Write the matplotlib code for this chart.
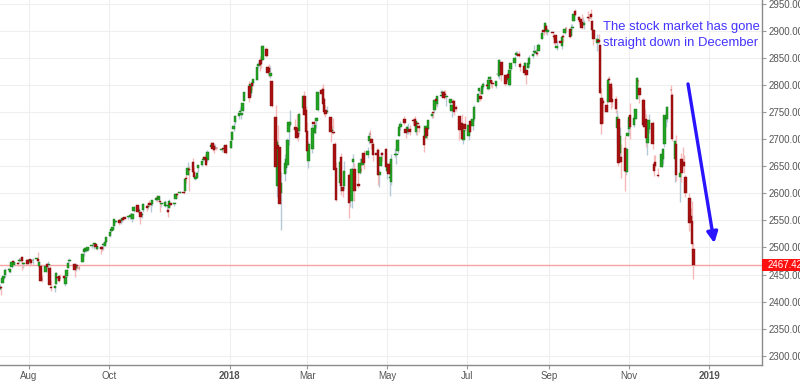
import numpy as np
import pandas as pd
import matplotlib
matplotlib.use("Agg")
import matplotlib.pyplot as plt
import matplotlib.dates as mdates
import matplotlib.transforms as mtransforms
from matplotlib.patches import Rectangle

plt.rcParams['font.family'] = ['Liberation Sans', 'DejaVu Sans']

# daily candles, 2017-07-10 .. 2018-12-20 (one line per month)
start_day = "2017-07-10"
end_day = "2018-12-20"
holidays = ["2017-09-04", "2017-11-23", "2017-12-25", "2018-01-01", "2018-01-15",
            "2018-02-19", "2018-03-30", "2018-05-28", "2018-07-04", "2018-09-03",
            "2018-11-22", "2018-12-05"]

opens = [
    2424, 2427, 2435, 2444, 2449, 2459, 2455, 2464, 2475, 2467, 2472, 2475, 2479, 2483, 2469, 2476,
    2474, 2478, 2476, 2476, 2478, 2478, 2465, 2466, 2442, 2454, 2469, 2468, 2462, 2427, 2425, 2433, 2445, 2447, 2444, 2447, 2432, 2447, 2463,
    2475, 2470, 2463, 2468, 2462, 2474, 2491, 2493, 2494, 2496, 2502, 2506, 2507, 2507, 2497, 2500, 2501, 2504, 2503, 2511,
    2521, 2530, 2533, 2540, 2547, 2551, 2549, 2551, 2555, 2556, 2556, 2557, 2561, 2553, 2567, 2578, 2568, 2566, 2560, 2570, 2577, 2575,
    2583, 2579, 2581, 2588, 2592, 2588, 2585, 2581, 2576, 2577, 2569, 2572, 2583, 2580, 2589, 2599, 2600, 2603, 2605, 2628, 2634,
    2645, 2657, 2639, 2627, 2628, 2646, 2652, 2661, 2667, 2665, 2661, 2685, 2693, 2688, 2683, 2684, 2680, 2683, 2687, 2690,
    2684, 2698, 2719, 2731, 2743, 2751, 2745, 2752, 2770, 2799, 2785, 2803, 2803, 2810, 2835, 2846, 2846, 2847, 2867, 2833, 2832,
    2817, 2808, 2741, 2614, 2690, 2686, 2601, 2636, 2646, 2652, 2713, 2727, 2722, 2720, 2711, 2716, 2757, 2780, 2754,
    2716, 2659, 2681, 2731, 2711, 2733, 2753, 2791, 2792, 2775, 2754, 2750, 2741, 2716, 2714, 2692, 2646, 2620, 2667, 2612, 2614,
    2633, 2592, 2585, 2658, 2645, 2617, 2638, 2643, 2653, 2675, 2670, 2697, 2710, 2701, 2692, 2675, 2680, 2634, 2651, 2675, 2682,
    2642, 2654, 2628, 2621, 2670, 2670, 2678, 2705, 2723, 2738, 2718, 2713, 2720, 2718, 2735, 2738, 2714, 2730, 2724, 2705, 2703, 2720,
    2719, 2742, 2749, 2753, 2774, 2765, 2780, 2785, 2788, 2784, 2778, 2766, 2752, 2770, 2770, 2760, 2742, 2722, 2729, 2699, 2728,
    2705, 2733, 2724, 2738, 2768, 2789, 2779, 2784, 2796, 2799, 2793, 2811, 2809, 2804, 2799, 2820, 2817, 2836, 2842, 2819, 2809,
    2821, 2800, 2830, 2841, 2856, 2856, 2858, 2838, 2835, 2827, 2827, 2831, 2838, 2853, 2861, 2860, 2860, 2862, 2885, 2902, 2900, 2909, 2898,
    2897, 2891, 2893, 2868, 2881, 2872, 2889, 2896, 2906, 2903, 2891, 2906, 2919, 2937, 2926, 2921, 2917, 2912, 2911,
    2926, 2924, 2932, 2919, 2902, 2877, 2883, 2874, 2776, 2770, 2764, 2768, 2811, 2802, 2775, 2774, 2721, 2737, 2675, 2667, 2683, 2640, 2706,
    2718, 2745, 2726, 2738, 2774, 2807, 2795, 2773, 2730, 2737, 2693, 2718, 2730, 2654, 2657, 2633, 2649, 2663, 2692, 2737, 2737,
    2791, 2782, 2663, 2691, 2630, 2664, 2658, 2658, 2630, 2591, 2559, 2548, 2497,
]
highs = [
    2432, 2429, 2445, 2449, 2463, 2462, 2461, 2474, 2477, 2473, 2474, 2481, 2481, 2484, 2474, 2478,
    2478, 2478, 2477, 2480, 2481, 2491, 2475, 2467, 2449, 2468, 2469, 2475, 2466, 2440, 2430, 2454, 2448, 2449, 2451, 2449, 2450, 2460, 2475,
    2481, 2471, 2470, 2468, 2467, 2489, 2496, 2498, 2498, 2500, 2505, 2507, 2509, 2507, 2503, 2503, 2503, 2511, 2510, 2520,
    2530, 2535, 2540, 2553, 2550, 2552, 2552, 2555, 2556, 2557, 2558, 2559, 2563, 2563, 2576, 2579, 2572, 2568, 2564, 2582, 2580, 2578,
    2588, 2582, 2588, 2593, 2597, 2595, 2587, 2583, 2588, 2579, 2572, 2590, 2583, 2584, 2600, 2601, 2605, 2606, 2628, 2634, 2657,
    2650, 2665, 2648, 2634, 2641, 2652, 2660, 2669, 2672, 2669, 2680, 2694, 2694, 2692, 2692, 2686, 2683, 2685, 2688, 2692,
    2696, 2715, 2730, 2744, 2749, 2760, 2751, 2767, 2787, 2808, 2807, 2806, 2811, 2833, 2842, 2853, 2848, 2873, 2870, 2837, 2839,
    2836, 2808, 2763, 2701, 2727, 2686, 2639, 2672, 2668, 2702, 2732, 2754, 2737, 2747, 2731, 2748, 2780, 2789, 2761,
    2731, 2696, 2728, 2733, 2730, 2741, 2787, 2797, 2801, 2777, 2763, 2762, 2741, 2725, 2740, 2695, 2657, 2660, 2675, 2630, 2659,
    2638, 2619, 2649, 2672, 2656, 2653, 2665, 2662, 2674, 2680, 2686, 2713, 2717, 2703, 2694, 2683, 2683, 2645, 2677, 2677, 2683,
    2656, 2660, 2638, 2673, 2684, 2677, 2701, 2726, 2733, 2742, 2719, 2726, 2729, 2726, 2739, 2742, 2733, 2731, 2728, 2711, 2725, 2723,
    2736, 2749, 2752, 2773, 2779, 2780, 2790, 2790, 2791, 2790, 2782, 2775, 2765, 2774, 2772, 2764, 2742, 2732, 2746, 2725, 2743,
    2727, 2737, 2737, 2763, 2785, 2795, 2790, 2799, 2805, 2803, 2814, 2816, 2810, 2810, 2808, 2835, 2848, 2843, 2843, 2821, 2819,
    2826, 2830, 2841, 2853, 2863, 2862, 2862, 2842, 2843, 2843, 2827, 2851, 2855, 2860, 2873, 2867, 2869, 2877, 2899, 2904, 2916, 2913, 2906,
    2900, 2893, 2893, 2883, 2884, 2892, 2895, 2906, 2908, 2904, 2912, 2912, 2935, 2941, 2927, 2924, 2931, 2925, 2920,
    2937, 2932, 2940, 2920, 2903, 2894, 2894, 2875, 2795, 2775, 2776, 2814, 2817, 2806, 2797, 2780, 2754, 2743, 2723, 2692, 2706, 2686, 2737,
    2741, 2767, 2745, 2756, 2815, 2812, 2796, 2776, 2755, 2747, 2735, 2747, 2733, 2670, 2671, 2647, 2676, 2683, 2744, 2753, 2761,
    2800, 2785, 2698, 2708, 2641, 2674, 2685, 2671, 2634, 2601, 2573, 2585, 2510,
]
lows = [
    2422, 2413, 2435, 2441, 2446, 2455, 2452, 2463, 2467, 2465, 2466, 2472, 2474, 2459, 2462, 2468,
    2471, 2465, 2468, 2469, 2475, 2471, 2461, 2438, 2437, 2454, 2459, 2459, 2430, 2420, 2417, 2433, 2441, 2436, 2441, 2439, 2428, 2446, 2463,
    2473, 2446, 2456, 2460, 2459, 2474, 2484, 2491, 2491, 2493, 2499, 2503, 2497, 2497, 2496, 2488, 2494, 2496, 2502, 2509,
    2520, 2528, 2532, 2539, 2545, 2542, 2544, 2547, 2548, 2552, 2552, 2553, 2557, 2547, 2566, 2564, 2565, 2544, 2555, 2566, 2568, 2571,
    2574, 2566, 2577, 2585, 2584, 2585, 2566, 2575, 2575, 2566, 2557, 2572, 2576, 2577, 2589, 2593, 2600, 2598, 2605, 2620, 2633,
    2605, 2639, 2629, 2625, 2628, 2640, 2650, 2659, 2662, 2651, 2657, 2685, 2679, 2674, 2682, 2680, 2677, 2679, 2682, 2673,
    2683, 2698, 2716, 2728, 2738, 2747, 2737, 2752, 2770, 2769, 2779, 2790, 2798, 2809, 2831, 2825, 2831, 2846, 2852, 2818, 2814,
    2813, 2759, 2638, 2593, 2681, 2580, 2533, 2622, 2637, 2648, 2689, 2725, 2706, 2701, 2697, 2709, 2752, 2744, 2713,
    2659, 2647, 2675, 2715, 2710, 2721, 2752, 2780, 2759, 2744, 2741, 2749, 2694, 2712, 2709, 2642, 2586, 2604, 2597, 2594, 2608,
    2554, 2574, 2573, 2648, 2586, 2610, 2635, 2639, 2652, 2645, 2665, 2692, 2703, 2682, 2660, 2658, 2615, 2612, 2651, 2660, 2648,
    2626, 2635, 2595, 2616, 2668, 2655, 2674, 2705, 2717, 2727, 2702, 2710, 2710, 2708, 2726, 2721, 2708, 2707, 2714, 2677, 2703, 2700,
    2719, 2740, 2739, 2748, 2761, 2760, 2779, 2780, 2775, 2776, 2761, 2757, 2741, 2763, 2745, 2752, 2699, 2713, 2699, 2692, 2716,
    2699, 2713, 2717, 2733, 2768, 2786, 2770, 2784, 2793, 2793, 2790, 2806, 2796, 2795, 2795, 2815, 2812, 2832, 2808, 2799, 2805,
    2805, 2799, 2828, 2836, 2855, 2853, 2851, 2826, 2819, 2826, 2802, 2831, 2834, 2850, 2857, 2856, 2853, 2862, 2885, 2893, 2898, 2895, 2892,
    2885, 2876, 2874, 2865, 2875, 2867, 2880, 2895, 2898, 2886, 2891, 2903, 2919, 2928, 2912, 2913, 2903, 2910, 2904,
    2918, 2919, 2921, 2893, 2874, 2863, 2875, 2784, 2710, 2729, 2750, 2768, 2782, 2755, 2760, 2749, 2692, 2651, 2667, 2628, 2604, 2634, 2706,
    2709, 2700, 2723, 2737, 2774, 2799, 2766, 2722, 2713, 2685, 2670, 2712, 2681, 2632, 2648, 2631, 2649, 2655, 2685, 2722, 2732,
    2774, 2697, 2621, 2623, 2584, 2621, 2650, 2637, 2593, 2531, 2529, 2489, 2441,
]
closes = [
    2427.43, 2425.53, 2443.25, 2447.83, 2459.27, 2459.14, 2460.61, 2473.83, 2473.45, 2472.54, 2469.91, 2477.13, 2477.83, 2475.42, 2472.10, 2470.30,
    2476.35, 2477.57, 2472.16, 2476.83, 2480.91, 2474.92, 2474.02, 2438.21, 2441.32, 2465.84, 2464.61, 2468.11, 2430.01, 2425.55, 2428.37, 2452.51, 2444.04, 2438.97, 2443.05, 2444.24, 2446.30, 2457.59, 2471.65,
    2476.55, 2457.85, 2465.54, 2465.10, 2461.43, 2488.11, 2496.48, 2498.37, 2495.62, 2500.23, 2503.87, 2506.65, 2508.24, 2500.60, 2502.22, 2496.66, 2496.84, 2507.04, 2510.06, 2519.36,
    2529.12, 2534.58, 2537.74, 2552.07, 2549.33, 2544.73, 2550.64, 2555.24, 2550.93, 2553.17, 2557.64, 2559.36, 2561.26, 2562.10, 2575.21, 2564.98, 2569.13, 2557.15, 2560.40, 2581.07, 2572.83, 2575.26,
    2579.36, 2579.85, 2587.84, 2591.13, 2590.64, 2594.38, 2584.62, 2582.30, 2584.84, 2578.87, 2564.62, 2585.64, 2578.85, 2582.14, 2599.03, 2597.08, 2602.42, 2601.42, 2627.04, 2626.07, 2647.58,
    2642.22, 2639.44, 2629.57, 2629.27, 2636.98, 2651.50, 2659.99, 2664.11, 2662.85, 2652.01, 2675.81, 2690.16, 2681.47, 2679.25, 2684.57, 2683.34, 2680.50, 2682.62, 2687.54, 2673.61,
    2695.81, 2713.06, 2723.99, 2743.15, 2747.71, 2751.29, 2748.23, 2767.56, 2786.24, 2776.42, 2802.56, 2798.03, 2810.30, 2832.97, 2839.13, 2837.54, 2839.25, 2872.87, 2853.53, 2822.43, 2823.81,
    2821.98, 2762.13, 2648.94, 2695.14, 2681.66, 2581.00, 2619.55, 2656.00, 2662.94, 2698.63, 2731.20, 2732.22, 2716.26, 2701.33, 2703.96, 2747.30, 2779.60, 2744.28, 2713.83,
    2677.67, 2691.25, 2720.94, 2728.12, 2726.80, 2738.97, 2786.57, 2783.02, 2765.31, 2749.48, 2747.33, 2752.01, 2712.92, 2716.94, 2711.93, 2643.69, 2588.26, 2658.55, 2612.62, 2605.00, 2640.87,
    2581.88, 2614.45, 2644.69, 2662.84, 2604.47, 2613.16, 2656.87, 2642.19, 2663.99, 2656.30, 2677.84, 2706.39, 2708.64, 2693.13, 2670.14, 2670.29, 2634.56, 2639.40, 2666.94, 2669.91, 2648.05,
    2654.80, 2635.67, 2629.73, 2663.42, 2672.63, 2671.92, 2697.79, 2723.07, 2727.72, 2730.13, 2711.45, 2722.46, 2720.13, 2712.97, 2733.01, 2724.44, 2733.29, 2727.76, 2721.33, 2689.86, 2724.01, 2705.27,
    2734.62, 2746.87, 2748.80, 2772.35, 2770.37, 2779.03, 2782.00, 2786.85, 2775.63, 2782.49, 2779.66, 2773.75, 2762.59, 2767.32, 2749.76, 2754.88, 2717.07, 2723.06, 2699.63, 2716.31, 2718.37,
    2726.71, 2713.22, 2736.61, 2759.82, 2784.17, 2793.84, 2774.02, 2798.29, 2801.31, 2798.43, 2809.55, 2815.62, 2804.49, 2801.83, 2806.98, 2820.40, 2846.07, 2837.44, 2818.82, 2802.60, 2816.29,
    2813.36, 2827.22, 2840.35, 2850.40, 2858.45, 2857.70, 2853.58, 2833.28, 2821.93, 2839.96, 2818.37, 2840.69, 2850.13, 2857.05, 2862.96, 2861.82, 2856.98, 2874.69, 2896.74, 2897.52, 2914.04, 2901.13, 2901.52,
    2896.72, 2888.60, 2878.05, 2871.68, 2877.13, 2887.89, 2888.92, 2904.18, 2904.98, 2888.80, 2904.31, 2907.95, 2930.75, 2929.67, 2919.37, 2915.56, 2905.97, 2914.00, 2913.98,
    2924.59, 2923.43, 2925.51, 2901.61, 2885.57, 2884.43, 2880.34, 2785.68, 2728.37, 2767.13, 2750.79, 2809.92, 2809.21, 2768.78, 2767.78, 2755.88, 2740.69, 2656.10, 2705.57, 2658.69, 2641.25, 2682.63, 2711.74,
    2740.37, 2723.06, 2738.31, 2755.45, 2813.89, 2806.83, 2781.01, 2726.22, 2722.18, 2701.58, 2730.20, 2736.27, 2690.73, 2641.89, 2649.93, 2632.56, 2673.45, 2682.17, 2743.79, 2737.80, 2760.17,
    2790.37, 2700.06, 2695.95, 2633.08, 2637.72, 2636.78, 2651.07, 2650.54, 2599.95, 2545.94, 2546.16, 2506.96, 2467.42,
]

last_price = 2467.42
y_ticks = [2300, 2350, 2400, 2450, 2500, 2550, 2600, 2650, 2700, 2750, 2800, 2850, 2900, 2950]
x_tick_dates = ["2017-08-01", "2017-10-01", "2018-01-01", "2018-03-01", "2018-05-01",
                "2018-07-01", "2018-09-01", "2018-11-01", "2019-01-01"]
x_tick_labels = ["Aug", "Oct", "2018", "Mar", "May", "Jul", "Sep", "Nov", "2019"]
note = ["The stock market has gone", "straight down in December"]

days = pd.bdate_range(start_day, end_day)
days = days[~days.isin(pd.to_datetime(holidays))]
n = len(days)
if not (len(opens) == len(highs) == len(lows) == len(closes) == n):
    raise SystemExit("length mismatch %d %d %d %d %d" % (n, len(opens), len(highs), len(lows), len(closes)))

x = mdates.date2num(days.to_pydatetime())
o = np.array(opens, float)
h = np.array(highs, float)
l = np.array(lows, float)
c = np.array(closes, float)
up = c >= o

fig = plt.figure(figsize=(8, 3.81), dpi=100)
ax = fig.add_axes([0, 1 - 365 / 381, 762 / 800, 365 / 381])

GREEN = "#22a322"
RED = "#ab1010"

ax.vlines(x[up], l[up], h[up], color="#b5cad8", lw=1.0, zorder=2)
ax.vlines(x[~up], l[~up], h[~up], color="#f6b9b9", lw=1.0, zorder=2)
body = np.maximum(np.abs(c - o), 1.2)
ax.bar(x[up], body[up], bottom=np.minimum(o, c)[up], width=1.9, color=GREEN,
       edgecolor="#177317", linewidth=0.3, zorder=3)
ax.bar(x[~up], body[~up], bottom=np.minimum(o, c)[~up], width=1.9, color=RED,
       edgecolor="#7a0c0c", linewidth=0.3, zorder=3)

ax.axhline(last_price, color="#f5a3a3", lw=1.0, zorder=1)

ax.set_xlim(mdates.date2num(pd.Timestamp("2017-07-10 05:00")),
            mdates.date2num(pd.Timestamp("2019-02-10 08:00")))
ax.set_ylim(2283, 2957)

ax.set_xticks(mdates.date2num(pd.to_datetime(x_tick_dates).to_pydatetime()))
ax.set_xticklabels(x_tick_labels)
for lab in ax.get_xticklabels():
    if lab.get_text().isdigit():
        lab.set_fontweight("bold")
ax.yaxis.tick_right()
ax.set_yticks(y_ticks)
ax.set_yticklabels(["%.2f" % v for v in y_ticks])

ax.tick_params(axis="both", labelsize=7, labelcolor="#555555", color="#999999", width=0.8)
ax.tick_params(axis="x", length=3, pad=1.5)
ax.tick_params(axis="y", length=3, pad=1.5)
ax.grid(True, color="#efefef", lw=0.8, zorder=0)
ax.set_axisbelow(True)
for side in ["top", "left"]:
    ax.spines[side].set_visible(False)
for side in ["right", "bottom"]:
    ax.spines[side].set_color("#8a8a8a")
    ax.spines[side].set_linewidth(1.0)

# current price tag on the axis
tr = mtransforms.blended_transform_factory(ax.transAxes, ax.transData)
ax.add_patch(Rectangle((1.0, last_price - 11.5), 0.06, 23, transform=tr, clip_on=False,
                       facecolor="#ff1010", edgecolor="none", zorder=6))
ax.text(1.0068, last_price, "%.2f" % last_price, transform=tr, ha="left", va="center",
        fontsize=7, color="white", zorder=7, clip_on=False)

ax.text(0.7907, 0.919, note[0], transform=ax.transAxes, fontsize=9.4, color="#4433ff", va="baseline")
ax.text(0.7907, 0.874, note[1], transform=ax.transAxes, fontsize=9.4, color="#4433ff", va="baseline")

ax.annotate("", xy=(mdates.date2num(pd.Timestamp("2019-01-05")), 2508),
            xytext=(mdates.date2num(pd.Timestamp("2018-12-16")), 2802),
            arrowprops=dict(arrowstyle="-|>", color="#2a14ff", lw=2.4, mutation_scale=16,
                            shrinkA=0, shrinkB=0), zorder=5)

fig.savefig("out.png", dpi=100)
